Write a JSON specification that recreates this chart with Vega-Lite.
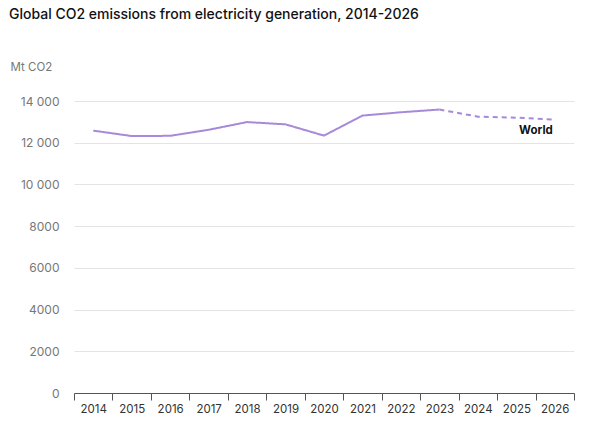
{
  "$schema": "https://vega.github.io/schema/vega-lite/v6.json",
  "width": 500,
  "height": 292,
  "autosize": {"type": "none"},
  "padding": {"left": 74, "top": 101, "right": 26, "bottom": 33},
  "background": "white",
  "title": {
    "text": "Global CO2 emissions from electricity generation, 2014-2026",
    "anchor": "start",
    "frame": "group",
    "dx": -65,
    "offset": 39,
    "font": "Inter",
    "fontSize": 14,
    "fontWeight": 500,
    "color": "#111111"
  },
  "config": {
    "view": {"stroke": null},
    "font": "Inter"
  },
  "data": {
    "values": [
      {"year": "2014", "value": 12580, "type": "actual"},
      {"year": "2015", "value": 12320, "type": "actual"},
      {"year": "2016", "value": 12330, "type": "actual"},
      {"year": "2017", "value": 12620, "type": "actual"},
      {"year": "2018", "value": 12990, "type": "actual"},
      {"year": "2019", "value": 12880, "type": "actual"},
      {"year": "2020", "value": 12340, "type": "actual"},
      {"year": "2021", "value": 13300, "type": "actual"},
      {"year": "2022", "value": 13460, "type": "actual"},
      {"year": "2023", "value": 13590, "type": "actual"},
      {"year": "2023", "value": 13590, "type": "forecast"},
      {"year": "2024", "value": 13250, "type": "forecast"},
      {"year": "2025", "value": 13200, "type": "forecast"},
      {"year": "2026", "value": 13110, "type": "forecast", "label": "World"}
    ]
  },
  "encoding": {
    "x": {
      "field": "year",
      "type": "ordinal",
      "scale": {"type": "band", "paddingInner": 0, "paddingOuter": 0},
      "axis": {
        "title": null,
        "labelAngle": 0,
        "tickBand": "extent",
        "tickSize": 7,
        "tickColor": "#555555",
        "domainColor": "#555555",
        "labelColor": "#333333",
        "labelFontSize": 11.5,
        "labelPadding": 3,
        "grid": false
      }
    },
    "y": {
      "field": "value",
      "type": "quantitative",
      "scale": {"domain": [0, 14000], "nice": false},
      "axis": {
        "title": "Mt CO2",
        "titleAngle": 0,
        "titleAlign": "left",
        "titleBaseline": "middle",
        "titleX": -64,
        "titleY": -34,
        "titleFontSize": 11.5,
        "titleFontWeight": "normal",
        "titleColor": "#777777",
        "values": [0, 2000, 4000, 6000, 8000, 10000, 12000, 14000],
        "labelExpr": "datum.value >= 10000 ? replace(format(datum.value, ','), ',', ' ') : format(datum.value, 'd')",
        "labelColor": "#777777",
        "labelFontSize": 12,
        "labelPadding": 15,
        "ticks": false,
        "domain": false,
        "grid": true,
        "gridColor": "#e4e4e4",
        "gridWidth": 1
      }
    }
  },
  "layer": [
    {
      "mark": {"type": "line", "strokeWidth": 2, "color": "#a68ad9"},
      "encoding": {
        "strokeDash": {
          "field": "type",
          "type": "nominal",
          "scale": {"domain": ["actual", "forecast"], "range": [[1, 0], [5, 4]]},
          "legend": null
        }
      }
    },
    {
      "transform": [{"filter": "datum.label != null"}],
      "mark": {
        "type": "text",
        "align": "right",
        "baseline": "middle",
        "dx": -2,
        "dy": 11,
        "fontSize": 11.5,
        "fontWeight": "bold",
        "color": "#111111"
      },
      "encoding": {"text": {"field": "label"}}
    }
  ]
}
